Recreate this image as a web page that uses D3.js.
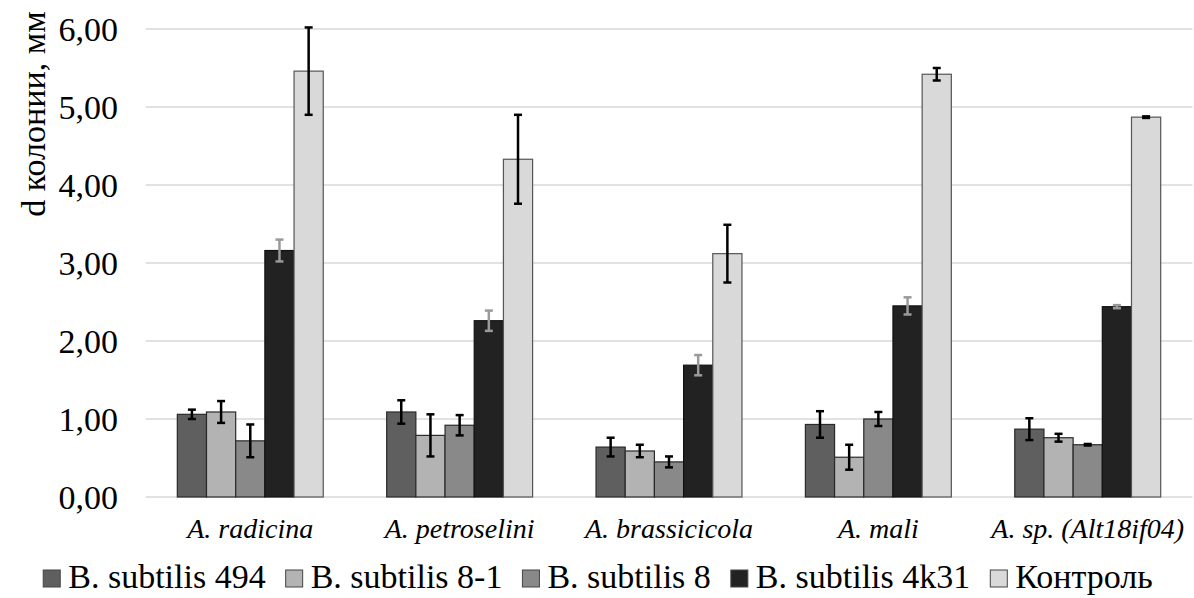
<!DOCTYPE html>
<html>
<head>
<meta charset="utf-8">
<script src="https://cdn.jsdelivr.net/npm/d3@7"></script>
<style>
  html, body { margin: 0; padding: 0; background: #fff; }
</style>
</head>
<body>
<div id="chart"></div>
<script>
// -- data --
const categories = ['A. radicina', 'A. petroselini', 'A. brassicicola', 'A. mali', 'A. sp. (Alt18if04)'];
const seriesNames = ['B. subtilis 494', 'B. subtilis 8-1', 'B. subtilis 8', 'B. subtilis 4k31', 'Контроль'];

const v494  = [1.06, 1.09, 0.64, 0.93, 0.87];
const v81   = [1.09, 0.79, 0.59, 0.51, 0.76];
const v8    = [0.72, 0.92, 0.45, 1.00, 0.67];
const v4k31 = [3.16, 2.26, 1.69, 2.45, 2.44];
const vCtrl = [5.46, 4.33, 3.12, 5.42, 4.87];

const e494  = [0.06, 0.15, 0.12, 0.17, 0.14];
const e81   = [0.14, 0.27, 0.08, 0.16, 0.05];
const e8    = [0.21, 0.13, 0.07, 0.09, 0.01];
const e4k31 = [0.14, 0.13, 0.13, 0.11, 0.02];
const eCtrl = [0.56, 0.57, 0.37, 0.08, 0.01];

const yTicks = [0, 1, 2, 3, 4, 5, 6];

const values = [v494, v81, v8, v4k31, vCtrl];
const errors = [e494, e81, e8, e4k31, eCtrl];

const fills   = ['#5f5f5f', '#b3b3b3', '#898989', '#222222', '#d9d9d9'];
const strokes = ['#2a2a2a', '#2a2a2a', '#2a2a2a', '#111111', '#555555'];
const errCol  = ['#000', '#000', '#000', '#9a9a9a', '#000'];

const FONT = '"Liberation Serif", "Times New Roman", serif';
const W = 1194, H = 598;
const svg = d3.select('#chart').append('svg')
  .attr('width', W).attr('height', H)
  .attr('viewBox', [0, 0, W, H]);

const y = d3.scaleLinear().domain([0, 6]).range([497, 29]);
const x0 = d3.scaleBand().domain(categories).range([145.6, 1192.4])
  .paddingInner(0.303).paddingOuter(0.1515);
const x1 = d3.scaleBand().domain(d3.range(seriesNames.length)).range([0, x0.bandwidth()]).padding(0);

// gridlines
svg.append('g').selectAll('line')
  .data(yTicks).enter().append('line')
  .attr('x1', 145.6).attr('x2', 1192.4)
  .attr('y1', d => y(d)).attr('y2', d => y(d))
  .attr('stroke', '#e2e2e2').attr('stroke-width', 2);

// tick labels
const fmt = d => d3.format('.2f')(d).replace('.', ',');
svg.append('g').selectAll('text')
  .data(yTicks).enter().append('text')
  .attr('x', 118).attr('y', d => y(d))
  .attr('text-anchor', 'end').attr('dominant-baseline', 'central')
  .style('font-family', FONT).style('font-size', '34px')
  .attr('fill', '#000')
  .text(fmt);

// axis title
svg.append('text')
  .attr('transform', 'translate(33,114) rotate(-90)')
  .attr('text-anchor', 'middle').attr('dominant-baseline', 'central')
  .style('font-family', FONT).style('font-size', '34px')
  .attr('fill', '#000')
  .text('d колонии, мм');

// bars
const groups = svg.append('g').selectAll('g')
  .data(categories).enter().append('g')
  .attr('transform', d => `translate(${x0(d)},0)`);

const cells = groups.selectAll('g.cell')
  .data((c, ci) => seriesNames.map((s, si) => ({ si, v: values[si][ci], e: errors[si][ci] })))
  .enter().append('g').attr('class', 'cell');

cells.append('rect')
  .attr('x', d => x1(d.si)).attr('width', x1.bandwidth())
  .attr('y', d => y(d.v)).attr('height', d => y(0) - y(d.v))
  .attr('fill', d => fills[d.si])
  .attr('stroke', d => strokes[d.si]).attr('stroke-width', 1.2);

// error bars
const cap = 4;
cells.append('line')
  .attr('x1', d => x1(d.si) + x1.bandwidth() / 2).attr('x2', d => x1(d.si) + x1.bandwidth() / 2)
  .attr('y1', d => y(d.v + d.e)).attr('y2', d => y(d.v - d.e))
  .attr('stroke', d => errCol[d.si]).attr('stroke-width', 2.5);
cells.selectAll('line.cap')
  .data(d => [{ ...d, t: d.v + d.e }, { ...d, t: d.v - d.e }])
  .enter().append('line').attr('class', 'cap')
  .attr('x1', d => x1(d.si) + x1.bandwidth() / 2 - cap).attr('x2', d => x1(d.si) + x1.bandwidth() / 2 + cap)
  .attr('y1', d => y(d.t)).attr('y2', d => y(d.t))
  .attr('stroke', d => errCol[d.si]).attr('stroke-width', 2.5);

// category labels
svg.append('g').selectAll('text')
  .data(categories).enter().append('text')
  .attr('x', d => x0(d) + x0.bandwidth() / 2).attr('y', 538)
  .attr('text-anchor', 'middle')
  .style('font-family', FONT).style('font-size', '28px').style('font-style', 'italic')
  .attr('fill', '#000')
  .text(d => d);

// legend
const leg = svg.append('g');
const items = leg.selectAll('g').data(seriesNames).enter().append('g');
items.append('rect')
  .attr('width', 17).attr('height', 17).attr('y', 570)
  .attr('fill', (d, i) => fills[i]).attr('stroke', '#444').attr('stroke-width', 1);
items.append('text')
  .attr('x', 25).attr('y', 588)
  .style('font-family', FONT).style('font-size', '34px')
  .attr('fill', '#000')
  .text(d => d);
let cx = 0;
const pos = [];
items.each(function() {
  const w = this.querySelector('text').getComputedTextLength();
  pos.push(cx);
  cx += 25 + w + 20;
});
const total = cx - 20;
const start = 598 - total / 2;
items.attr('transform', (d, i) => `translate(${start + pos[i]},0)`);
</script>
</body>
</html>
